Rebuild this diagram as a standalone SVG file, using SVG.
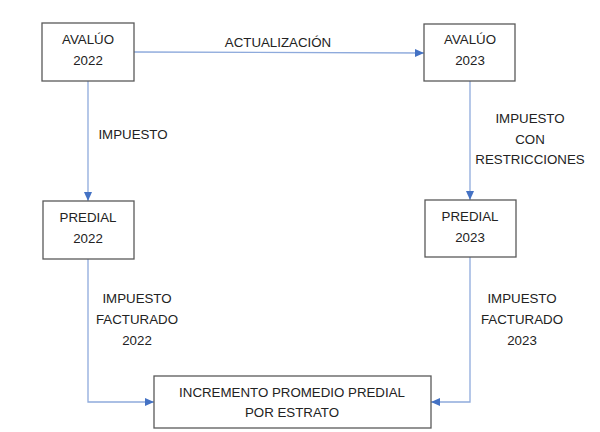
<svg xmlns="http://www.w3.org/2000/svg" width="600" height="432" viewBox="0 0 600 432">
<style>
.box{fill:#fff;stroke:#595959;stroke-width:1.3}
text{font-family:"Liberation Sans",Arial,sans-serif;font-size:13.3px;fill:#222;text-anchor:middle;dominant-baseline:central}
.c{fill:none;stroke:#8eaadc;stroke-width:1.3}
</style>
<defs>
<marker id="ah" markerWidth="10" markerHeight="10" refX="9" refY="5" orient="auto" markerUnits="userSpaceOnUse">
<path d="M0,1 L9,5 L0,9 Z" fill="#4472c4"/>
</marker>
</defs>
<rect width="600" height="432" fill="#fff"/>
<g id="connectors">
<path class="c" d="M134,52 L424,53" marker-end="url(#ah)"/>
<path class="c" d="M88,81 L88,201" marker-end="url(#ah)"/>
<path class="c" d="M470,81 L470,200" marker-end="url(#ah)"/>
<path class="c" d="M88,259 L88,402 L154,402" marker-end="url(#ah)"/>
<path class="c" d="M470,257 L470,402 L431,402" marker-end="url(#ah)"/>
</g>
<g id="labels">
<text x="278" y="42">ACTUALIZACIÓN</text>
<text x="133" y="134">IMPUESTO</text>
<text x="530" y="118">IMPUESTO</text>
<text x="530" y="139">CON</text>
<text x="530" y="159">RESTRICCIONES</text>
<text x="137" y="298">IMPUESTO</text>
<text x="137" y="319">FACTURADO</text>
<text x="137" y="340">2022</text>
<text x="522" y="298">IMPUESTO</text>
<text x="522" y="319">FACTURADO</text>
<text x="522" y="340">2023</text>
</g>
<g id="avaluo2022">
<rect class="box" x="42" y="23" width="92" height="58"/>
<text x="88" y="39">AVALÚO</text>
<text x="88" y="60">2022</text>
</g>
<g id="avaluo2023">
<rect class="box" x="424" y="24" width="91" height="57"/>
<text x="470" y="39">AVALÚO</text>
<text x="470" y="60">2023</text>
</g>
<g id="predial2022">
<rect class="box" x="43" y="201" width="91" height="58"/>
<text x="88" y="217">PREDIAL</text>
<text x="88" y="238">2022</text>
</g>
<g id="predial2023">
<rect class="box" x="425" y="200" width="91" height="57"/>
<text x="470" y="216">PREDIAL</text>
<text x="470" y="237">2023</text>
</g>
<g id="incremento">
<rect class="box" x="154" y="376" width="277" height="52"/>
<text x="292" y="392">INCREMENTO PROMEDIO PREDIAL</text>
<text x="292" y="412">POR ESTRATO</text>
</g>
</svg>
